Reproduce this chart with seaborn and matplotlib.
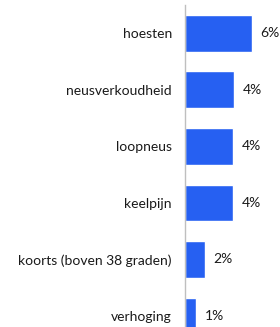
import matplotlib
matplotlib.use("Agg")
import matplotlib.pyplot as plt
import seaborn as sns
import pandas as pd

categories = ["hoesten", "neusverkoudheid", "loopneus", "keelpijn",
              "koorts (boven 38 graden)", "verhoging"]
values = [6.0, 4.4, 4.3, 4.3, 1.8, 1.0]
value_labels = ["6%", "4%", "4%", "4%", "2%", "1%"]

df = pd.DataFrame({"symptoom": categories, "pct": values})

sns.set_theme(style="white")
plt.rcParams["font.family"] = ["Lato", "DejaVu Sans"]

fig = plt.figure(figsize=(2.8, 3.27), dpi=100)
ax = fig.add_axes([185/280, 1 - 344.25/327, 95/280, 339.25/327])

sns.barplot(data=df, y="symptoom", x="pct", orient="h", color="#2660F2",
            saturation=1, width=0.65, ax=ax)

ax.set_xlim(0, 95/11.2)
ax.set_ylim(5.5, -0.5)
ax.set_xlabel("")
ax.set_ylabel("")
ax.set_xticks([])
for s in ["top", "right", "bottom"]:
    ax.spines[s].set_visible(False)
ax.spines["left"].set_color("#BFBFBF")
ax.spines["left"].set_linewidth(1.0)
ax.tick_params(axis="y", length=0, pad=9.5, labelsize=10, labelcolor="#1a1a1a")

for i, (v, lab) in enumerate(zip(values, value_labels)):
    ax.annotate(lab, xy=(v, i), xytext=(6, 0), textcoords="offset points",
                va="center", ha="left", fontsize=10, color="#1a1a1a")

fig.savefig("out.png", dpi=100)
